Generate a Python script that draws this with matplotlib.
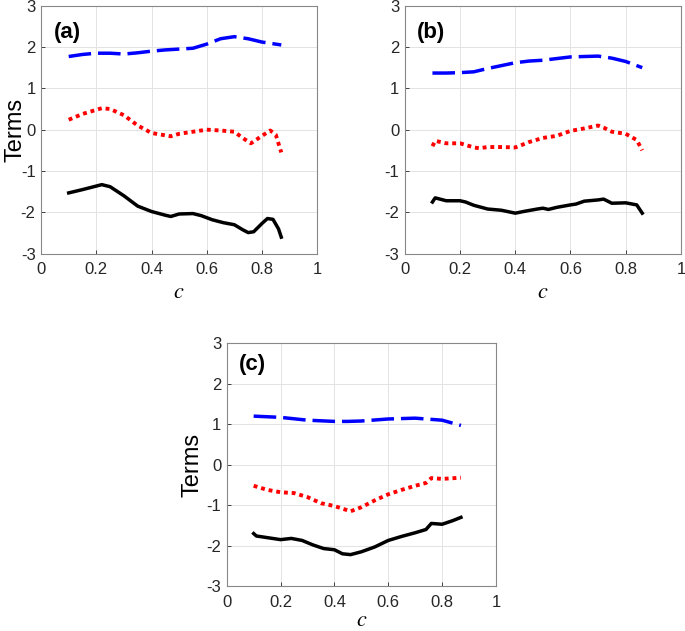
import numpy as np
import matplotlib.pyplot as plt

plt.rcParams["font.family"] = ["Liberation Sans", "DejaVu Sans"]
plt.rcParams["mathtext.fontset"] = "stix"
plt.rcParams["axes.unicode_minus"] = False

# (a)
a_blue_x = [0.10, 0.15, 0.20, 0.25, 0.30, 0.35, 0.40, 0.45, 0.50, 0.55, 0.60, 0.65, 0.70, 0.75, 0.80, 0.87]
a_blue_y = [1.77, 1.82, 1.85, 1.85, 1.83, 1.86, 1.90, 1.93, 1.95, 1.97, 2.07, 2.20, 2.25, 2.20, 2.12, 2.05]
a_red_x = [0.10, 0.15, 0.22, 0.25, 0.30, 0.35, 0.40, 0.47, 0.50, 0.55, 0.60, 0.65, 0.70, 0.73, 0.76, 0.80, 0.83, 0.85, 0.87]
a_red_y = [0.24, 0.38, 0.52, 0.50, 0.35, 0.10, -0.08, -0.16, -0.10, -0.05, 0.00, -0.02, -0.05, -0.20, -0.33, -0.15, -0.02, -0.12, -0.55]
a_blk_x = [0.10, 0.15, 0.22, 0.25, 0.30, 0.35, 0.40, 0.45, 0.47, 0.50, 0.55, 0.58, 0.62, 0.66, 0.70, 0.73, 0.75, 0.77, 0.80, 0.82, 0.84, 0.86, 0.87]
a_blk_y = [-1.53, -1.45, -1.33, -1.38, -1.60, -1.85, -1.98, -2.07, -2.10, -2.04, -2.03, -2.08, -2.18, -2.25, -2.30, -2.42, -2.49, -2.47, -2.27, -2.15, -2.17, -2.40, -2.60]

# (b)
b_blue_x = [0.10, 0.15, 0.20, 0.25, 0.30, 0.35, 0.40, 0.45, 0.50, 0.55, 0.60, 0.65, 0.70, 0.75, 0.80, 0.86]
b_blue_y = [1.37, 1.37, 1.38, 1.40, 1.48, 1.55, 1.62, 1.66, 1.68, 1.72, 1.76, 1.77, 1.78, 1.73, 1.65, 1.50]
b_red_x = [0.10, 0.11, 0.15, 0.20, 0.25, 0.27, 0.30, 0.35, 0.40, 0.42, 0.45, 0.50, 0.55, 0.60, 0.65, 0.70, 0.72, 0.75, 0.80, 0.84, 0.86]
b_red_y = [-0.40, -0.27, -0.33, -0.33, -0.43, -0.45, -0.42, -0.42, -0.43, -0.38, -0.30, -0.20, -0.15, -0.03, 0.03, 0.10, 0.05, -0.05, -0.10, -0.25, -0.50]
b_blk_x = [0.10, 0.11, 0.15, 0.20, 0.22, 0.25, 0.30, 0.35, 0.40, 0.43, 0.48, 0.50, 0.52, 0.55, 0.60, 0.62, 0.65, 0.70, 0.72, 0.75, 0.80, 0.84, 0.86]
b_blk_y = [-1.75, -1.65, -1.72, -1.72, -1.75, -1.83, -1.92, -1.95, -2.02, -1.98, -1.92, -1.90, -1.93, -1.88, -1.82, -1.80, -1.73, -1.70, -1.68, -1.78, -1.77, -1.82, -2.02]

# (c)
c_blue_x = [0.10, 0.20, 0.30, 0.40, 0.45, 0.50, 0.60, 0.70, 0.80, 0.87]
c_blue_y = [1.20, 1.17, 1.10, 1.07, 1.07, 1.08, 1.13, 1.15, 1.10, 0.97]
c_red_x = [0.10, 0.15, 0.20, 0.25, 0.30, 0.35, 0.40, 0.46, 0.50, 0.55, 0.60, 0.65, 0.70, 0.74, 0.76, 0.80, 0.87]
c_red_y = [-0.52, -0.62, -0.68, -0.70, -0.80, -0.95, -1.02, -1.15, -1.05, -0.88, -0.73, -0.62, -0.52, -0.45, -0.33, -0.35, -0.32]
c_blk_x = [0.10, 0.11, 0.15, 0.20, 0.24, 0.28, 0.32, 0.36, 0.40, 0.43, 0.46, 0.50, 0.55, 0.60, 0.65, 0.70, 0.74, 0.76, 0.80, 0.84, 0.87]
c_blk_y = [-1.70, -1.76, -1.80, -1.85, -1.82, -1.87, -1.98, -2.07, -2.10, -2.20, -2.22, -2.15, -2.03, -1.87, -1.77, -1.68, -1.60, -1.45, -1.47, -1.38, -1.30]

fig = plt.figure(figsize=(6.85, 6.31), dpi=100)

# label, rect, ylabel x (axes frac), xlabel y (axes frac), panel tag y
panels = [
    ("(a)", [0.060, 0.598, 0.403, 0.393], -0.094, -0.157, 2.35, (a_blue_x, a_blue_y), (a_red_x, a_red_y), (a_blk_x, a_blk_y)),
    ("(b)", [0.591, 0.598, 0.403, 0.393], None, -0.157, 2.35, (b_blue_x, b_blue_y), (b_red_x, b_red_y), (b_blk_x, b_blk_y)),
    ("(c)", [0.331, 0.071, 0.393, 0.385], -0.126, -0.14, 2.48, (c_blue_x, c_blue_y), (c_red_x, c_red_y), (c_blk_x, c_blk_y)),
]

for label, rect, ylab_x, xlab_y, tag_y, blue, red, blk in panels:
    ax = fig.add_axes(rect)
    ax.plot(blue[0], blue[1], color="blue", linestyle=(0, (6.5, 2)), lw=2.5)
    ax.plot(red[0], red[1], color="red", linestyle=(0, (1, 1)), lw=2.8)
    ax.plot(blk[0], blk[1], color="black", linestyle="-", lw=2.5)
    ax.set_xlim(0, 1)
    ax.set_ylim(-3, 3)
    ax.set_xticks([0, 0.2, 0.4, 0.6, 0.8, 1])
    ax.set_xticklabels(["0", "0.2", "0.4", "0.6", "0.8", "1"])
    ax.set_yticks([-3, -2, -1, 0, 1, 2, 3])
    ax.grid(True, color="#e3e3e3", lw=0.7)
    ax.tick_params(direction="in", length=3, labelsize=12, colors="#262626", width=0.6)
    ax.tick_params(axis="x", pad=6)
    ax.tick_params(axis="y", pad=4)
    for s in ax.spines.values():
        s.set_color("#888888")
        s.set_linewidth(0.8)
    ax.set_xlabel("$c$", fontsize=16, va="center")
    ax.xaxis.set_label_coords(0.5, xlab_y)
    if ylab_x is not None:
        ax.set_ylabel("Terms", fontsize=17, va="center")
        ax.yaxis.set_label_coords(ylab_x, 0.5)
    ax.text(0.045, tag_y, label, fontsize=16, fontweight="bold", va="center", ha="left")

fig.savefig("out.png", dpi=100)
